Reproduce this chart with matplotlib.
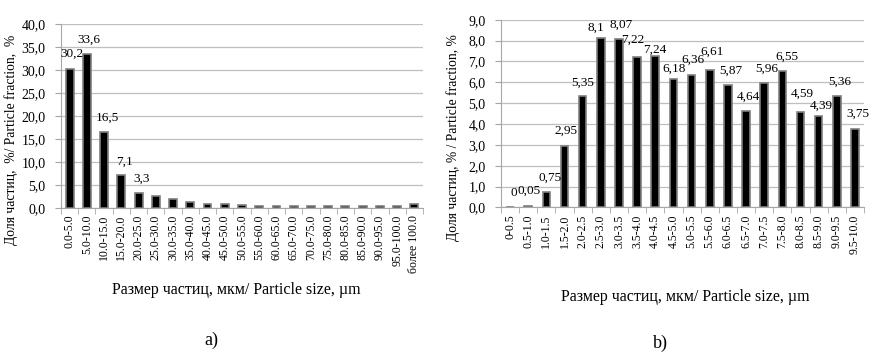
import matplotlib
matplotlib.use("Agg")
import matplotlib.pyplot as plt
import numpy as np
from matplotlib.ticker import FuncFormatter, FixedLocator

plt.rcParams['font.family'] = ['Liberation Serif', 'DejaVu Serif']

# ---- data, chart a ----
cats_a = ["0.0-5.0", "5.0-10.0", "10.0-15.0", "15.0-20.0", "20.0-25.0", "25.0-30.0",
          "30.0-35.0", "35.0-40.0", "40.0-45.0", "45.0-50.0", "50.0-55.0", "55.0-60.0",
          "60.0-65.0", "65.0-70.0", "70.0-75.0", "75.0-80.0", "80.0-85.0", "85.0-90.0",
          "90.0-95.0", "95.0-100.0", "более 100.0"]
vals_a = [30.2, 33.6, 16.5, 7.1, 3.3, 2.5, 1.8, 1.2, 0.9, 0.85, 0.6, 0.45,
          0.45, 0.4, 0.35, 0.35, 0.3, 0.3, 0.3, 0.3, 0.7]
labels_a = ["30,2", "33,6", "16,5", "7,1", "3,3"]

# ---- data, chart b ----
cats_b = ["0-0.5", "0.5-1.0", "1.0-1.5", "1.5-2.0", "2.0-2.5", "2.5-3.0", "3.0-3.5",
          "3.5-4.0", "4.0-4.5", "4.5-5.0", "5.0-5.5", "5.5-6.0", "6.0-6.5", "6.5-7.0",
          "7.0-7.5", "7.5-8.0", "8.0-8.5", "8.5-9.0", "9.0-9.5", "9.5-10.0"]
vals_b = [0, 0.05, 0.75, 2.95, 5.35, 8.1, 8.07, 7.22, 7.24, 6.18, 6.36, 6.61,
          5.87, 4.64, 5.96, 6.55, 4.59, 4.39, 5.36, 3.75]
labels_b = ["0", "0,05", "0,75", "2,95", "5,35", "8,1", "8,07", "7,22", "7,24", "6,18",
            "6,36", "6,61", "5,87", "4,64", "5,96", "6,55", "4,59", "4,39", "5,36", "3,75"]

# label placement (style): pixel offsets of label centre from bar top
offs_a = [(2.5, 15), (2, 14), (3, 14), (3, 13), (3, 14)]
offs_b = [(4, 14), (1, 16), (3.5, 14), (1.5, 15), (0.5, 13), (-5, 11), (2, 14.5),
          (-4.5, 17), (-1, 7), (1, 10), (1.5, 15), (2, 18), (3, 14), (2.3, 14),
          (2.5, 14.5), (5, 14.5), (2, 18), (3, 10), (3, 14), (3.3, 16)]

W, H = 879, 363
fig = plt.figure(figsize=(W / 100, H / 100), dpi=100)

comma = FuncFormatter(lambda v, p: f"{v:.1f}".replace(".", ","))
grid_c = "#bfbfbf"
spine_c = "#a6a6a6"


def make(ax, cats, vals, ymax, ystep, ylabel, width):
    n = len(cats)
    x = np.arange(n)
    ax.bar(x, vals, width=width, color="black", edgecolor="#7f7f7f", linewidth=1.2, zorder=3)
    ax.set_xlim(-0.5, n - 0.5)
    ax.set_ylim(0, ymax)
    ax.set_yticks(np.arange(0, ymax + 1e-9, ystep))
    ax.yaxis.set_major_formatter(comma)
    ax.set_xticks(x)
    ax.set_xticklabels(cats, rotation=90, fontsize=8.5)
    ax.xaxis.set_minor_locator(FixedLocator(np.arange(-0.5, n, 1.0)))
    ax.tick_params(axis="x", which="major", length=0, pad=5)
    ax.tick_params(axis="x", which="minor", length=4, color=spine_c, direction="out")
    ax.tick_params(axis="y", length=4, color=spine_c, labelsize=10, pad=7)
    ax.grid(axis="y", color=grid_c, linewidth=0.9, zorder=0)
    ax.set_axisbelow(True)
    for s in ("top", "right"):
        ax.spines[s].set_visible(False)
    for s in ("left", "bottom"):
        ax.spines[s].set_color(spine_c)
    ax.set_ylabel(ylabel, fontsize=9.8)
    ax.set_xlabel("Размер частиц, мкм/ Particle size, µm", fontsize=11.5)
    return x


def add_labels(ax, x, vals, labels, offs):
    for i, lab in enumerate(labels):
        dx, dy = offs[i]
        ax.annotate(lab, (x[i], vals[i]), xytext=(dx, dy), textcoords="offset pixels",
                    ha="center", va="center", fontsize=9.5)


axa = fig.add_axes([61 / W, 1 - 207.7 / H, 362 / W, (207.7 - 24.3) / H])
xa = make(axa, cats_a, vals_a, 40, 5, "Доля частиц,  %/ Particle fraction,  %", 0.46)
axa.yaxis.set_label_coords((18 - 61) / 362, (207.7 - 140) / 183.4)
axa.xaxis.set_label_coords(0.5 - 6 / 362, (207.7 - 282) / 183.4)
add_labels(axa, xa, vals_a, labels_a, offs_a)

axb = fig.add_axes([501 / W, 1 - 207.5 / H, 363 / W, (207.5 - 19.7) / H])
xb = make(axb, cats_b, vals_b, 9, 1, "Доля частиц, % / Particle fraction, %", 0.42)
axb.yaxis.set_label_coords((460 - 501) / 363, (207.5 - 138) / 187.8)
axb.xaxis.set_label_coords(0.5 + 2.5 / 363, (207.5 - 289) / 187.8)
add_labels(axb, xb, vals_b, labels_b, offs_b)

fig.text(211.7 / W, 1 - 340 / H, "a)", ha="center", va="center", fontsize=13)
fig.text(660 / W, 1 - 343 / H, "b)", ha="center", va="center", fontsize=13)

fig.savefig("out.png", dpi=100)
